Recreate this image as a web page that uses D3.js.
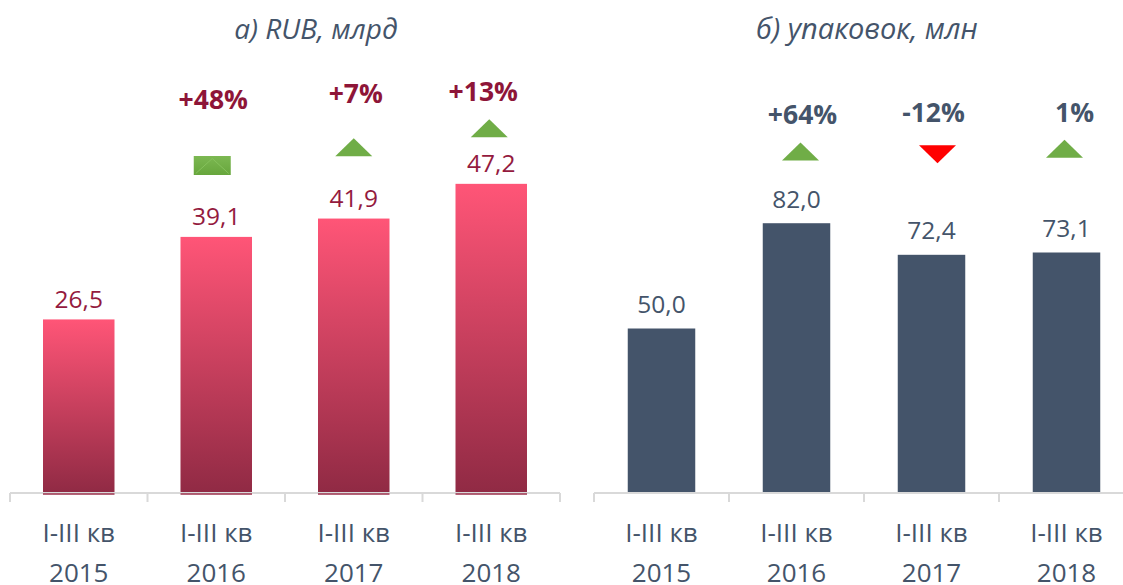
<!DOCTYPE html>
<html><head><meta charset="utf-8">
<script src="https://cdn.jsdelivr.net/npm/d3@7"></script>
<style>
html,body{margin:0;padding:0;background:#fff;}
svg{display:block;font-family:"Open Sans",sans-serif;}
</style></head>
<body>
<svg id="c" width="1123" height="585"></svg>
<script>
const categories = ["I-III кв\n2015","I-III кв\n2016","I-III кв\n2017","I-III кв\n2018"];
const rubValues = [26.5, 39.1, 41.9, 47.2];
const rubLabels = ["26,5","39,1","41,9","47,2"];
const rubChange = [null, "+48%", "+7%", "+13%"];
const rubMarker = [null, "flat", "up", "up"];
const rubMarkerLevel = [null, 50.0, 52.8, 55.7];
const rubChangeLevel = [null, 60.0, 60.9, 61.2];

const packValues = [50.0, 82.0, 72.4, 73.1];
const packLabels = ["50,0","82,0","72,4","73,1"];
const packChange = [null, "+64%", "-12%", "1%"];
const packMarker = [null, "up", "down", "up"];
const packMarkerLevel = [null, 103.8, 103.0, 104.6];
const packChangeLevel = [null, 114.9, 115.5, 115.5];

const titles = ["а) RUB, млрд", "б) упаковок, млн"];

const svg = d3.select("#c");
const defs = svg.append("defs");
const grad = defs.append("linearGradient").attr("id","pinkGrad")
  .attr("x1",0).attr("y1",0).attr("x2",0).attr("y2",1);
grad.append("stop").attr("offset","0%").attr("stop-color","#ff5577");
grad.append("stop").attr("offset","100%").attr("stop-color","#902a44");
const gGrad = defs.append("linearGradient").attr("id","greenGrad")
  .attr("x1",0).attr("y1",0).attr("x2",0).attr("y2",1);
gGrad.append("stop").attr("offset","0%").attr("stop-color","#7cb852");
gGrad.append("stop").attr("offset","100%").attr("stop-color","#67a63c");

const baseY = 493;
const slate = "#44546a";
const green = "#70ad47";

function drawChart(cfg){
  const g = svg.append("g");
  const x = d3.scaleBand().domain(categories).range(cfg.xr).paddingInner(cfg.pad).paddingOuter(cfg.pad/2);
  const y = d3.scaleLinear().domain([0, cfg.ymax]).range([baseY, baseY - cfg.ymax*cfg.ppu]);

  // title
  g.append("text").attr("x", cfg.titleX).attr("y", 29).attr("dy","0.35em")
    .attr("text-anchor","middle").attr("font-style","italic")
    .attr("font-size", cfg.titleSize).attr("fill", slate).text(cfg.title);

  // bars
  g.selectAll("rect.bar").data(cfg.values).join("rect").attr("class","bar")
    .attr("x",(d,i)=>x(categories[i])).attr("width",x.bandwidth())
    .attr("y",d=>y(d)).attr("height",d=>y(0)-y(d))
    .attr("fill", cfg.fill);

  // axis
  const axis = d3.axisBottom(x).tickSize(0).tickFormat("");
  const ag = g.append("g").attr("transform",`translate(0,${baseY})`).call(axis);
  ag.select(".domain").attr("stroke","#d9d9d9").attr("stroke-width",2)
    .attr("d",`M${cfg.xr[0]},0H${cfg.axisEnd}`);
  const step = x.step();
  const tickXs = d3.range(0, categories.length+1).map(i => cfg.xr[0] + i*step);
  ag.selectAll("line.tk").data(tickXs).join("line").attr("class","tk")
    .attr("x1",d=>d).attr("x2",d=>d).attr("y1",0).attr("y2",9)
    .attr("stroke","#d9d9d9").attr("stroke-width",2);
  if (cfg.bottomLine) {
    g.selectAll("line.bl").data(cfg.values).join("line").attr("class","bl")
      .attr("x1",(d,i)=>x(categories[i])).attr("x2",(d,i)=>x(categories[i])+x.bandwidth())
      .attr("y1",baseY+1).attr("y2",baseY+1).attr("stroke","#9b2f4a").attr("stroke-width",1.5);
  }

  // category labels
  categories.forEach((c,i)=>{
    const cx = x(c)+x.bandwidth()/2;
    const t = g.append("text").attr("x", cx).attr("y", 533)
      .attr("text-anchor","middle").attr("font-size",26).attr("fill",slate);
    c.split("\n").forEach((line,j)=>{
      t.append("tspan").attr("x", cx).attr("y", 533 + j*40).attr("dy","0.35em").text(line);
    });
  });

  // value labels
  g.selectAll("text.val").data(cfg.values).join("text").attr("class","val")
    .attr("x",(d,i)=>x(categories[i])+x.bandwidth()/2)
    .attr("y",d=>y(d)-cfg.labelOff).attr("dy","0.35em")
    .attr("text-anchor","middle").attr("font-size",24.5).attr("fill",cfg.labelColor)
    .text((d,i)=>cfg.labels[i]);

  // change labels
  cfg.change.forEach((c,i)=>{
    if(!c) return;
    const cx = x(categories[i])+x.bandwidth()/2 + cfg.chDx[i];
    g.append("text").attr("x",cx).attr("y",y(cfg.changeLevel[i])).attr("dy","0.35em")
      .attr("text-anchor","middle").attr("font-size",26.5).attr("font-weight","bold")
      .attr("fill",cfg.changeColor).text(c);
  });

  // markers
  cfg.marker.forEach((m,i)=>{
    if(!m) return;
    const cx = x(categories[i])+x.bandwidth()/2 + cfg.mkDx[i];
    const cy = y(cfg.markerLevel[i]);
    const w = 37, h = 18;
    if (m === "up") {
      g.append("path").attr("d",`M${cx-w/2},${cy+h/2}L${cx},${cy-h/2}L${cx+w/2},${cy+h/2}Z`).attr("fill",green);
    } else if (m === "down") {
      g.append("path").attr("d",`M${cx-w/2},${cy-h/2}L${cx},${cy+h/2}L${cx+w/2},${cy-h/2}Z`).attr("fill","#ff0000");
    } else {
      g.append("rect").attr("x",cx-w/2).attr("y",cy-9.5).attr("width",w).attr("height",19).attr("fill","url(#greenGrad)");
      g.append("path").attr("d",`M${cx-w/2+2},${cy+8}L${cx},${cy-7}L${cx+w/2-2},${cy+8}`)
        .attr("fill","none").attr("stroke","#86c25c").attr("stroke-width",1);
    }
  });
}

drawChart({
  xr:[10, 560], axisEnd:560, pad:0.48, ymax:50, ppu:6.55, title:titles[0], titleX:316, titleSize:28,
  values:rubValues, labels:rubLabels, fill:"url(#pinkGrad)", labelColor:"#941a3e", labelOff:20,
  change:rubChange, changeLevel:rubChangeLevel, changeColor:"#8e1538", chDx:[0,-3,2,-8],
  marker:rubMarker, markerLevel:rubMarkerLevel, mkDx:[0,-4,0,-2], bottomLine:true
});
drawChart({
  xr:[594, 1134], axisEnd:1123, pad:0.5, ymax:90, ppu:3.29, title:titles[1], titleX:867, titleSize:29,
  values:packValues, labels:packLabels, fill:"#44546a", labelColor:slate, labelOff:24,
  change:packChange, changeLevel:packChangeLevel, changeColor:slate, chDx:[0,6,2,8],
  marker:packMarker, markerLevel:packMarkerLevel, mkDx:[0,4,6,-2], bottomLine:false
});
</script>
</body></html>
